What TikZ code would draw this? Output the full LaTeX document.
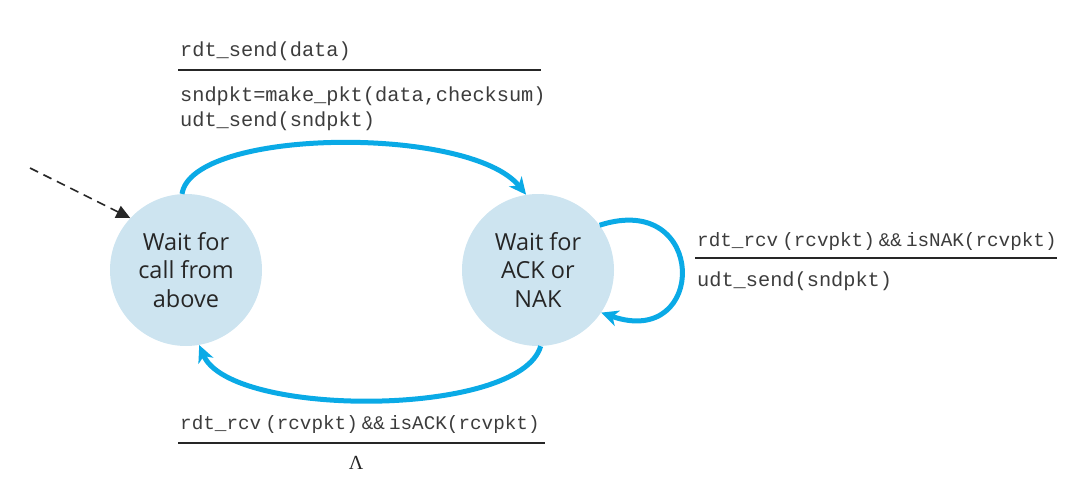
\documentclass[tikz,border=0pt]{standalone}
\usepackage{fontspec}
\newfontfamily\sansf{Open Sans}
\newfontfamily\monof{Liberation Mono}
\newfontfamily\lserif{Liberation Serif}
\usetikzlibrary{arrows.meta}
\definecolor{stfill}{RGB}{205,228,240}
\definecolor{arrc}{RGB}{10,170,230}
\definecolor{txt}{RGB}{60,60,60}
\tikzset{
  state/.style={circle,fill=stfill,minimum size=152pt,inner sep=0pt,align=center,
    font=\sansf\fontsize{23.5}{28.5}\selectfont,text=black!85},
  trans/.style={draw=arrc,line width=5pt,-{Stealth[length=17pt,width=16pt,inset=5pt]}},
  guard/.style={anchor=base west,inner sep=0pt,font=\monof\fontsize{20.3}{24}\selectfont,text=txt},
  guardn/.style={guard,font=\monof\fontsize{19.3}{24}\selectfont},
  bar/.style={draw=black!85,line width=1.5pt},
}
\newcommand{\gsp}{\hspace{4pt}}
\begin{document}
\begin{tikzpicture}[x=1pt,y=-1pt]
\useasboundingbox (0,0) rectangle (1079,477);
\node[state] (s1) at (186,270) {Wait for\\call from\\above};
\node[state] (s2) at (538,270) {Wait for\\ACK or\\NAK};
% initial arrow
\coordinate (init) at (30,168);
\draw[dashed,dash pattern=on 9pt off 6pt,line width=1.6pt,black!85,-{Triangle[length=14pt,width=13pt]}] (init) -- (s1.137);
% transitions
\draw[trans] (s1.93) .. controls (192,128) and (470,125) .. (s2.99);
\draw[trans] (s2.-88) .. controls (520,418) and (230,418) .. (s1.-80);
\draw[trans] (s2.36) .. controls (708,190) and (708,350) .. (s2.-34);
% top label
\node[guard] (g1) at (180,56) {rdt\_send(data)};
\draw[bar] (178,70) -- (541,70);
\node[guard] (a1) at (180,101) {sndpkt=make\_pkt(data,checksum)};
\node[guard] (a1b) at (180,126) {udt\_send(sndpkt)};
% right label
\node[guardn] (g2) at (697,246) {rdt\_rcv\gsp(rcvpkt)\gsp\&\&\gsp isNAK(rcvpkt)};
\draw[bar] (695,258) -- (1057,258);
\node[guard] (a2) at (697,286) {udt\_send(sndpkt)};
% bottom label
\node[guardn] (g3) at (180,429) {rdt\_rcv\gsp(rcvpkt)\gsp\&\&\gsp isACK(rcvpkt)};
\draw[bar] (178,443) -- (545,443);
\node[anchor=base,inner sep=0pt,font=\lserif\fontsize{20}{24}\selectfont,text=black!85] (a3) at (356,469) {Λ};
\end{tikzpicture}
\end{document}
